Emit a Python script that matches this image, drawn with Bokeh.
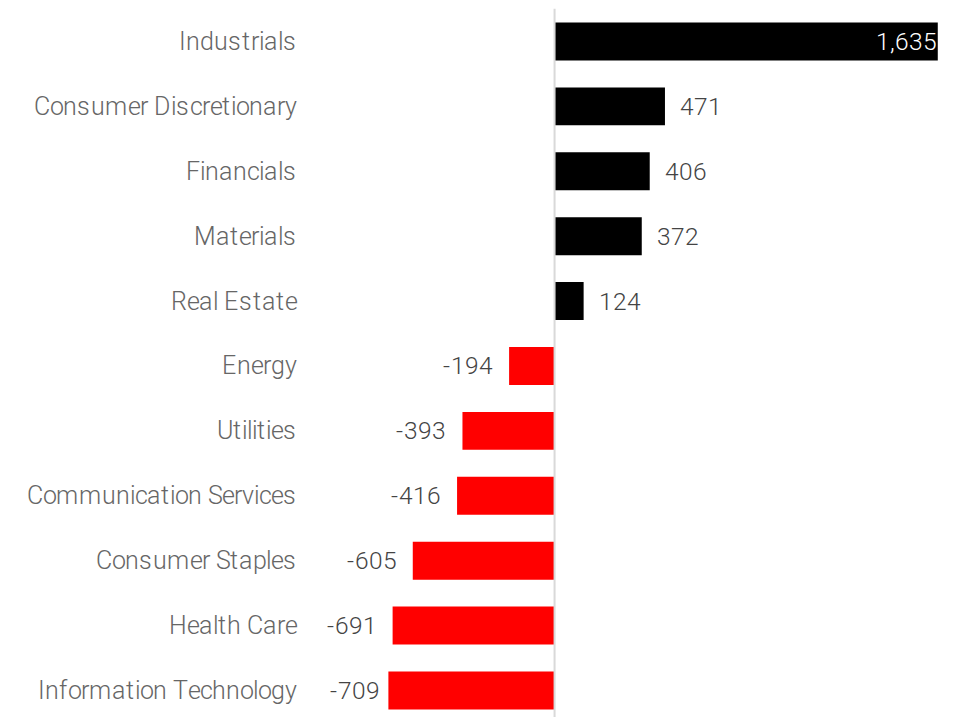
import glob, os, base64, subprocess
from bokeh.plotting import figure
from bokeh.models import (ColumnDataSource, Range1d, FixedTicker, Span,
                          GlobalInlineStyleSheet, CustomJS)
from bokeh.document import Document
from bokeh.core.properties import value
from bokeh.embed import file_html
from bokeh.resources import INLINE

categories = ["Industrials", "Consumer Discretionary", "Financials", "Materials",
              "Real Estate", "Energy", "Utilities", "Communication Services",
              "Consumer Staples", "Health Care", "Information Technology"]
values = [1635, 471, 406, 372, 124, -194, -393, -416, -605, -691, -709]

pos_color = "#000000"
neg_color = "#ff0000"


def find_light_roboto():
    files = []
    for d in ["/usr/share/fonts", "/usr/local/share/fonts", os.path.expanduser("~/.fonts"),
              os.path.expanduser("~/.local/share/fonts")]:
        files += glob.glob(os.path.join(d, "**", "*"), recursive=True)
    try:
        out = subprocess.run(["fc-list", "--format", "%{file}\n"], capture_output=True,
                             text=True, timeout=10).stdout
        files += [l.strip() for l in out.splitlines() if l.strip()]
    except Exception:
        pass
    fonts = [f for f in set(files) if f.lower().endswith((".ttf", ".otf", ".woff2", ".woff"))]
    bad = ("italic", "condensed", "mono", "slab", "serif", "flex", "black", "bold", "medium", "thin")
    rob = [f for f in fonts if "roboto" in os.path.basename(f).lower()
           and not any(b in os.path.basename(f).lower() for b in bad)]
    light = [f for f in rob if "light" in os.path.basename(f).lower()
             and "extralight" not in os.path.basename(f).lower()]
    if light:
        return sorted(light, key=len)[0]
    var = [f for f in rob if "[" in os.path.basename(f) or "variable" in f.lower()
           or "vf" in os.path.basename(f).lower()]
    if var:
        return sorted(var, key=len)[0]
    return None


css = '@font-face { font-family: "RobotoLite"; src: local("Roboto Light"), local("Roboto-Light"); font-weight: 300; }'
ff = find_light_roboto()
if ff:
    ext = os.path.splitext(ff)[1].lower().lstrip(".")
    fmt = {"ttf": "truetype", "otf": "opentype", "woff": "woff", "woff2": "woff2"}[ext]
    mime = {"ttf": "font/ttf", "otf": "font/otf", "woff": "font/woff", "woff2": "font/woff2"}[ext]
    b64 = base64.b64encode(open(ff, "rb").read()).decode("ascii")
    css = ('@font-face { font-family: "RobotoLite"; src: url(data:%s;base64,%s) format("%s"); '
           'font-weight: 300; font-style: normal; }' % (mime, b64, fmt))

FONT_NAME = "RobotoLite, 'Roboto Light', Roboto"
FONT = value(FONT_NAME)
LSIZE = "25px"
VSIZE = "24.5px"

ys = list(range(len(categories)))
src = ColumnDataSource(dict(
    y=ys, v=values,
    color=[pos_color if v > 0 else neg_color for v in values],
))

p = figure(width=949, height=717, output_backend="svg", toolbar_location=None,
           x_range=Range1d(-1084, 1685), y_range=Range1d(10.416, -0.508),
           min_border_left=300, min_border_right=0, min_border_top=8, min_border_bottom=0)
p.stylesheets = [GlobalInlineStyleSheet(css=css)]
p.outline_line_color = None
p.xgrid.visible = False
p.ygrid.visible = False
p.xaxis.visible = False

# zero line
p.add_layout(Span(location=0, dimension="height", line_color="#d9d9d9", line_width=2))

p.hbar(y="y", left=0, right="v", height=0.585, fill_color="color", line_color=None, source=src)

yaxis = p.yaxis[0]
yaxis.ticker = FixedTicker(ticks=ys)
yaxis.major_label_overrides = {i: c for i, c in enumerate(categories)}
yaxis.axis_line_color = None
yaxis.major_tick_line_color = None
yaxis.minor_tick_line_color = None
yaxis.major_tick_out = 0
yaxis.major_tick_in = 0
yaxis.major_label_standoff = 5
yaxis.major_label_text_font = FONT_NAME
yaxis.major_label_text_font_size = LSIZE
yaxis.major_label_text_color = "#666666"

inside = [i for i, v in enumerate(values) if v > 1000]
outside_pos = [i for i, v in enumerate(values) if 0 < v <= 1000]
outside_neg = [i for i, v in enumerate(values) if v < 0]
vmin = min(values)


def sub(idx, gap):
    return ColumnDataSource(dict(
        y=[ys[i] for i in idx], v=[values[i] for i in idx],
        lbl=[f"{values[i]:,}" for i in idx],
        # the longest negative bar's label is squeezed closer to its bar
        off=[(-8 if values[i] == vmin else gap) for i in idx]))


r1 = p.text(x="v", y="y", text="lbl", source=sub(inside, -1), text_align="right",
            text_baseline="middle", x_offset="off", text_color="#ffffff",
            text_font=FONT, text_font_size=VSIZE)
r2 = p.text(x="v", y="y", text="lbl", source=sub(outside_pos, 15), text_align="left",
            text_baseline="middle", x_offset="off", text_color="#444444",
            text_font=FONT, text_font_size=VSIZE)
r3 = p.text(x="v", y="y", text="lbl", source=sub(outside_neg, -16), text_align="right",
            text_baseline="middle", x_offset="off", text_color="#444444",
            text_font=FONT, text_font_size=VSIZE)

# re-measure texts once the embedded font has loaded
refresh = CustomJS(args=dict(ax=yaxis, g1=r1.glyph, g2=r2.glyph, g3=r3.glyph,
                             s1=r1.data_source, s2=r2.data_source, s3=r3.data_source),
                   code="""
let n = 0;
function redo() {
  n += 1;
  const eps = (n % 2 == 1) ? 0.01 : 0.0;
  ax.major_label_text_font_size = (25 + eps) + "px";
  ax.major_label_standoff = 4;
  for (const g of [g1, g2, g3]) {
    g.text_font_size = {value: (24.5 + eps) + "px"};
  }
  for (const s of [s1, s2, s3]) {
    s.data = Object.assign({}, s.data);
  }
}
try {
  document.fonts.load('300 25px RobotoLite').then(() => { redo(); setTimeout(redo, 200); });
} catch (e) {}
setTimeout(redo, 600);
""")

doc = Document()
doc.add_root(p)
doc.js_on_event("document_ready", refresh)

open("out.html", "w").write(file_html(p, INLINE))
